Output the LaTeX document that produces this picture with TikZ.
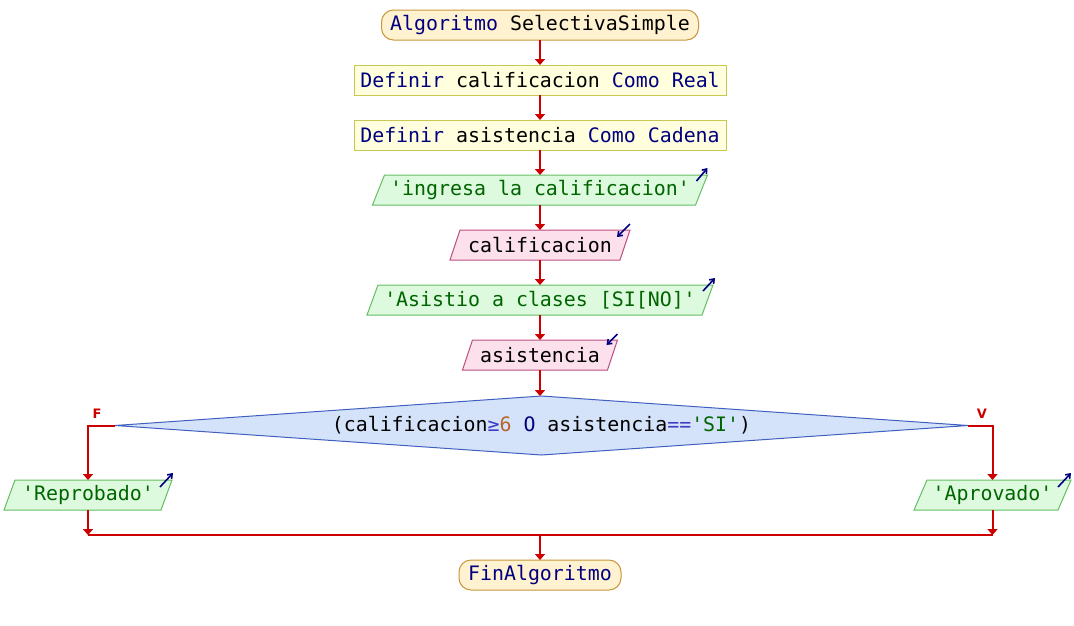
\documentclass[tikz,border=0pt]{standalone}
\usepackage{fontspec}
\newfontfamily\codefont{DejaVu Sans Mono}
\newfontfamily\lblfont{DejaVu Sans}
\usetikzlibrary{arrows.meta}
\pgfdeclarelayer{background}
\pgfsetlayers{background,main}
\definecolor{termf}{RGB}{255,242,208}
\definecolor{termb}{RGB}{200,150,60}
\definecolor{deff}{RGB}{255,255,221}
\definecolor{defb}{RGB}{200,200,80}
\definecolor{outf}{RGB}{222,250,222}
\definecolor{outb}{RGB}{100,190,100}
\definecolor{inf}{RGB}{252,225,236}
\definecolor{inb}{RGB}{190,80,130}
\definecolor{condf}{RGB}{213,227,250}
\definecolor{condb}{RGB}{64,96,192}
\definecolor{flowred}{RGB}{204,0,0}
\definecolor{kwnavy}{RGB}{0,0,128}
\definecolor{strgreen}{RGB}{0,100,0}
\definecolor{numbrown}{RGB}{184,100,42}
\definecolor{opblue}{RGB}{60,60,200}
\newcommand{\kw}[1]{\textcolor{kwnavy}{#1}}
\newcommand{\str}[1]{\textcolor{strgreen}{#1}}
\newcommand{\num}[1]{\textcolor{numbrown}{#1}}
\newcommand{\op}[1]{\textcolor{opblue}{#1}}
\begin{document}
\begin{tikzpicture}[x=1pt,y=-1pt,
  base/.style={inner sep=0pt, outer sep=0pt, minimum height=30pt, text=black,
    font=\codefont\fontsize{19.9}{24}\selectfont},
  term/.style={base, draw=termb, fill=termf, rounded corners=12pt, line width=1pt},
  defbox/.style={base, draw=defb, fill=deff, line width=1pt},
  outshape/.style={draw=outb, fill=outf, line width=1pt},
  inshape/.style={draw=inb, fill=inf, line width=1pt},
  condshape/.style={draw=condb, fill=condf, line width=1pt},
  flow/.style={draw=flowred, line width=2pt, -{Triangle[length=6pt,width=10pt]}},
  flowline/.style={draw=flowred, line width=2pt},
  icon/.style={draw=kwnavy, line width=1.6pt, -{Straight Barb[length=4pt,width=6pt]}},
  lbl/.style={text=flowred, font=\lblfont\bfseries\fontsize{13}{15}\selectfont, inner sep=0pt}
]
\useasboundingbox (0,0) rectangle (1074,625);

% nodes
\node[term, minimum width=317pt] (start) at (540,25) {\kw{Algoritmo} SelectivaSimple};
\node[defbox, minimum width=372pt] (d1) at (540,80) {\kw{Definir} calificacion \kw{Como} \kw{Real}};
\node[defbox, minimum width=372pt] (d2) at (540,135) {\kw{Definir} asistencia \kw{Como} \kw{Cadena}};
\node[base, minimum width=335pt] (o1) at (540,190) {\str{'ingresa la calificacion'}};
\node[base, minimum width=180pt] (i1) at (540,245) {calificacion};
\node[base, minimum width=346pt] (o2) at (540,300) {\str{'Asistio a clases [SI[NO]'}};
\node[base, minimum width=155pt] (i2) at (540,355) {asistencia};
\node[base, minimum width=853pt, minimum height=59pt] (cond) at (541.5,425.5)
  {(calificacion\op{≥}\num{6} \kw{O} asistencia\op{==}\str{'SI'})};
\node[base, minimum width=168pt] (rep) at (88,495) {\str{'Reprobado'}};
\node[base, minimum width=157pt] (apr) at (992.5,495) {\str{'Aprovado'}};
\node[term, minimum width=162pt] (fin) at (540,575) {\kw{FinAlgoritmo}};
\node[lbl] (fl) at (97,414) {F};
\node[lbl] (vl) at (982,414) {V};

% shapes behind text
\begin{pgfonlayer}{background}
\fill[white] (0,0) rectangle (1074,625);
\draw[outshape] ([xshift=12pt]o1.north west) -- (o1.north east) -- ([xshift=-12pt]o1.south east) -- (o1.south west) -- cycle;
\draw[inshape] ([xshift=10pt]i1.north west) -- (i1.north east) -- ([xshift=-10pt]i1.south east) -- (i1.south west) -- cycle;
\draw[outshape] ([xshift=11pt]o2.north west) -- (o2.north east) -- ([xshift=-11pt]o2.south east) -- (o2.south west) -- cycle;
\draw[inshape] ([xshift=10pt]i2.north west) -- (i2.north east) -- ([xshift=-10pt]i2.south east) -- (i2.south west) -- cycle;
\draw[condshape] (cond.west) -- (cond.north) -- (cond.east) -- (cond.south) -- cycle;
\draw[outshape] ([xshift=11pt]rep.north west) -- (rep.north east) -- ([xshift=-11pt]rep.south east) -- (rep.south west) -- cycle;
\draw[outshape] ([xshift=13pt]apr.north west) -- (apr.north east) -- ([xshift=-13pt]apr.south east) -- (apr.south west) -- cycle;
\end{pgfonlayer}

% io icons
\draw[icon] ([shift={(-11,6)}]o1.north east) -- ([shift={(0,-7)}]o1.north east);
\draw[icon] ([shift={(0,-6)}]i1.north east) -- ([shift={(-13,7)}]i1.north east);
\draw[icon] ([shift={(-10,6)}]o2.north east) -- ([shift={(2,-7)}]o2.north east);
\draw[icon] ([shift={(0,-6)}]i2.north east) -- ([shift={(-11,5)}]i2.north east);
\draw[icon] ([shift={(-12,7)}]rep.north east) -- ([shift={(1,-7)}]rep.north east);
\draw[icon] ([shift={(-13,7)}]apr.north east) -- ([shift={(0,-7)}]apr.north east);

% connectors
\draw[flow] (start.south) -- (d1.north);
\draw[flow] (d1.south) -- (d2.north);
\draw[flow] (d2.south) -- (o1.north);
\draw[flow] (o1.south) -- (i1.north);
\draw[flow] (i1.south) -- (o2.north);
\draw[flow] (o2.south) -- (i2.north);
\draw[flow] (i2.south) -- (i2.south |- cond.north);
\draw[flow] (cond.west) -- (rep.north |- cond.west) -- (rep.north);
\draw[flow] (cond.east) -- (apr.north |- cond.east) -- (apr.north);
\coordinate (mL) at (88,535);
\coordinate (mR) at (992.5,535);
\coordinate (mC) at (540,535);
\draw[flow] (rep.south) -- (mL);
\draw[flow] (apr.south) -- (mR);
\draw[flowline] (mL) -- (mR);
\draw[flow] (mC) -- (fin.north);
\end{tikzpicture}
\end{document}
